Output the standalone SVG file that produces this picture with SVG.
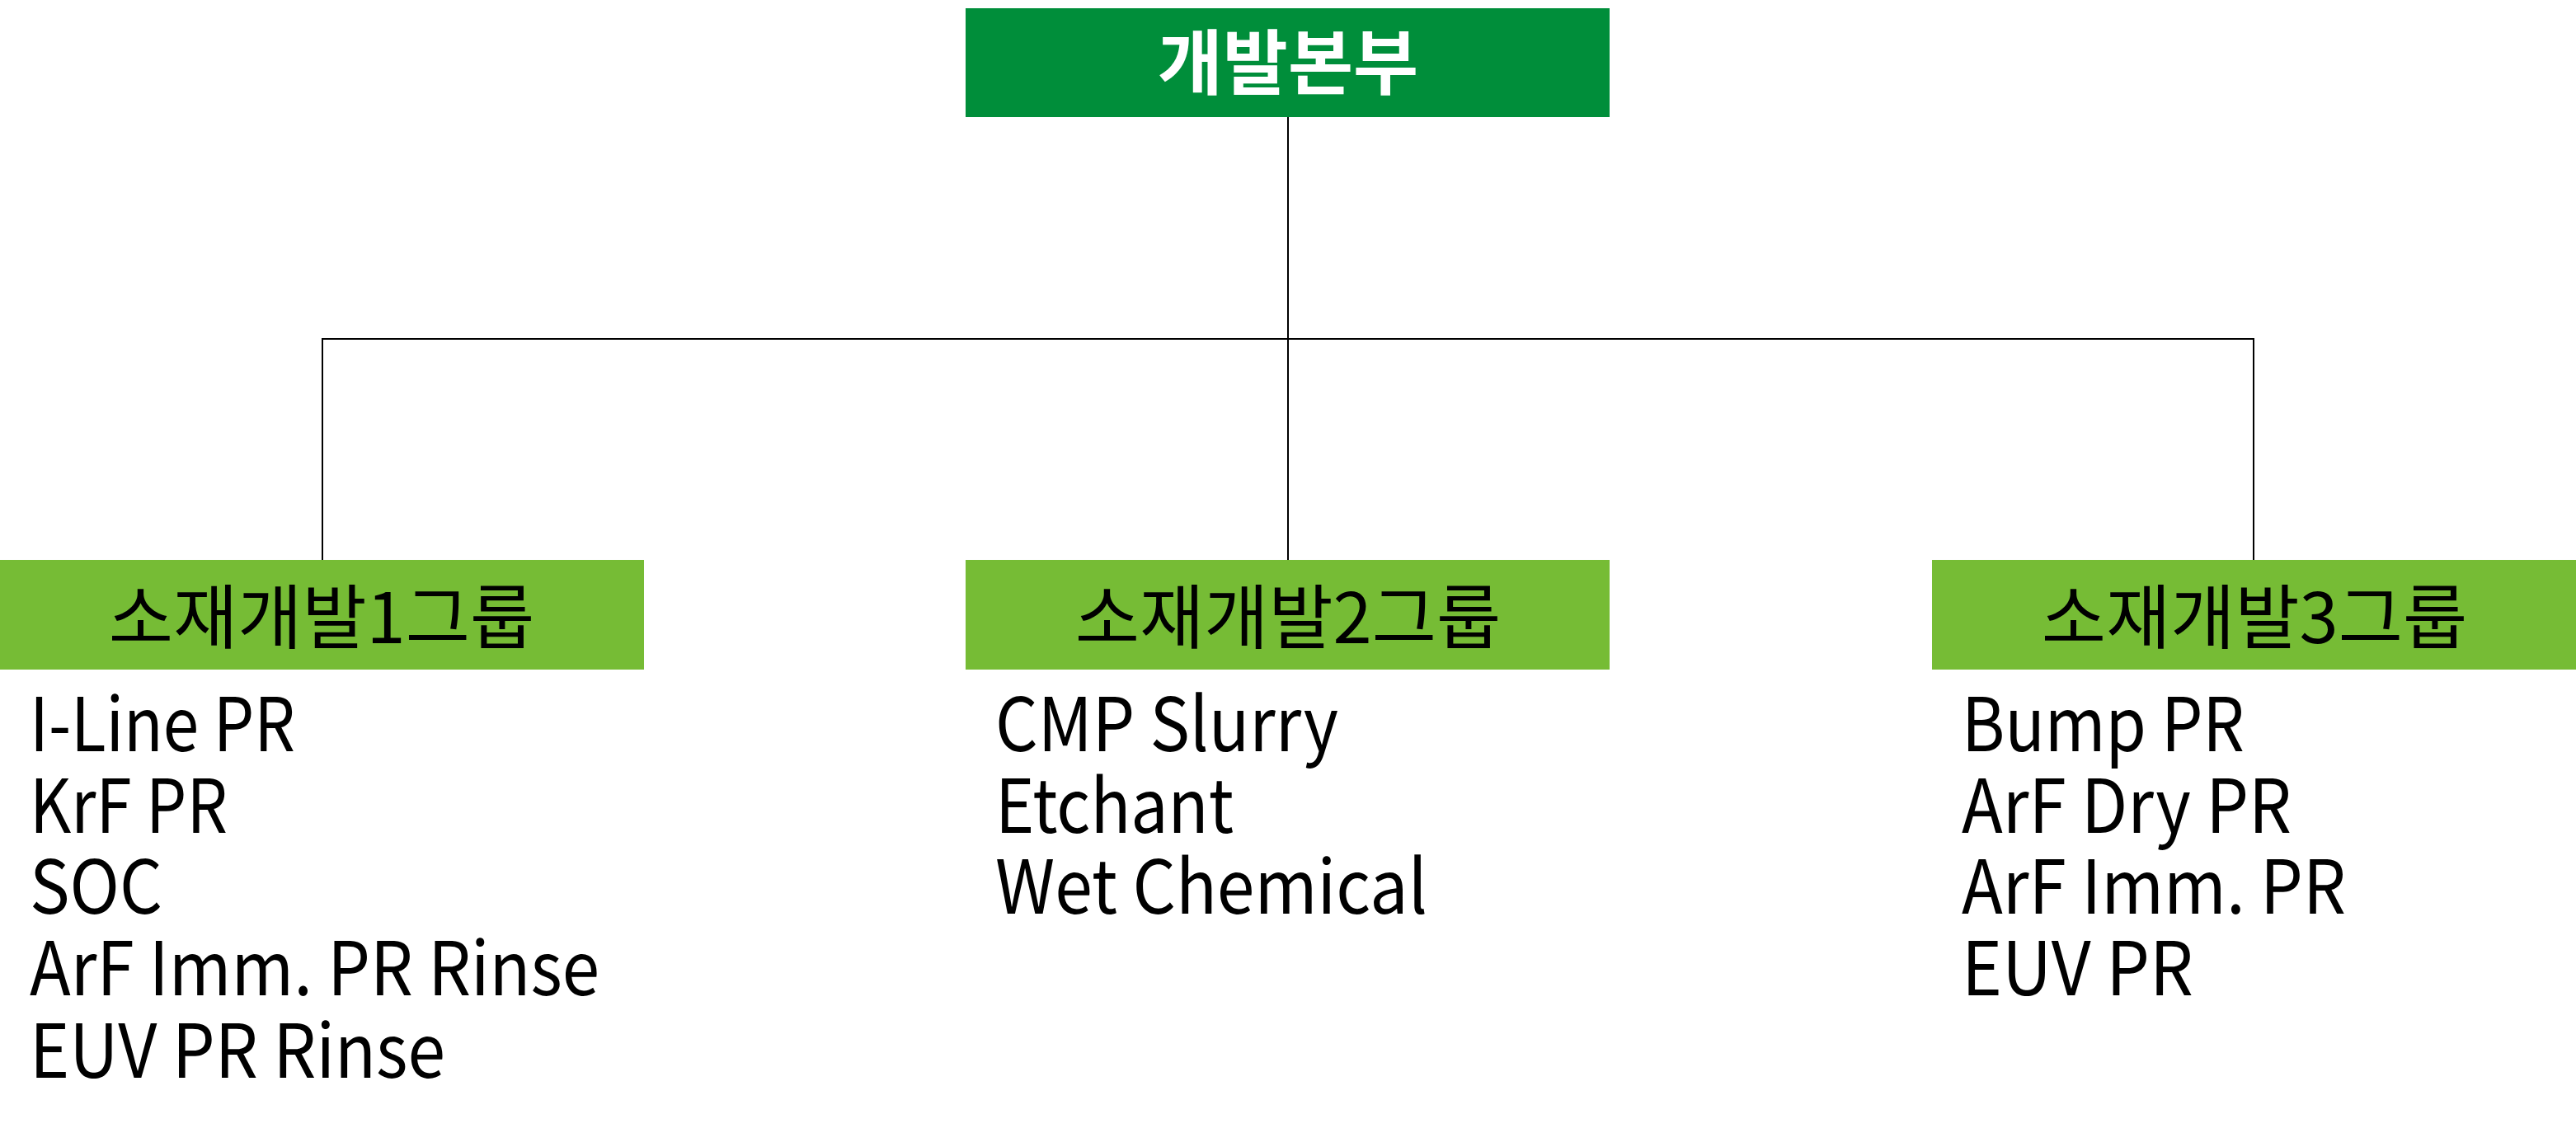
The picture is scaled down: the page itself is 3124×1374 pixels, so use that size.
<svg xmlns="http://www.w3.org/2000/svg" width="3124" height="1374" viewBox="0 0 3124 1374">
<style>
.top{fill:#008e3a}
.grp{fill:#76bc35}
.tt{font-family:"Noto Sans CJK KR","Noto Sans",sans-serif;font-size:86px;font-weight:700;fill:#fff;text-anchor:middle}
.gt{font-family:"Noto Sans CJK KR","Noto Sans",sans-serif;font-size:85px;fill:#000;text-anchor:middle}
.it{font-family:"Noto Sans CJK KR","Noto Sans",sans-serif;font-size:90px;fill:#000}
.ln{stroke:#000;stroke-width:2;fill:none}
</style>
<rect width="3124" height="1374" fill="#fff"/>
<g id="connectors">
<path class="ln" d="M1562 142V679"/>
<path class="ln" d="M391 679V411H2733V679"/>
</g>
<g id="hq">
<rect class="top" x="1171" y="10" width="781" height="132"/>
<text class="tt" x="1562" y="108">개발본부</text>
</g>
<g id="group1">
<rect class="grp" x="0" y="679" width="781" height="133"/>
<text class="gt" x="390" y="780">소재개발1그룹</text>
<text class="it" x="36" y="911" textLength="322" lengthAdjust="spacingAndGlyphs">I-Line PR</text>
<text class="it" x="36" y="1010" textLength="240" lengthAdjust="spacingAndGlyphs">KrF PR</text>
<text class="it" x="36" y="1108" textLength="161" lengthAdjust="spacingAndGlyphs">SOC</text>
<text class="it" x="36" y="1207" textLength="691" lengthAdjust="spacingAndGlyphs">ArF Imm. PR Rinse</text>
<text class="it" x="36" y="1307" textLength="504" lengthAdjust="spacingAndGlyphs">EUV PR Rinse</text>
</g>
<g id="group2">
<rect class="grp" x="1171" y="679" width="781" height="133"/>
<text class="gt" x="1562" y="780">소재개발2그룹</text>
<text class="it" x="1207" y="911" textLength="416" lengthAdjust="spacingAndGlyphs">CMP Slurry</text>
<text class="it" x="1207" y="1010" textLength="289" lengthAdjust="spacingAndGlyphs">Etchant</text>
<text class="it" x="1207" y="1108" textLength="524" lengthAdjust="spacingAndGlyphs">Wet Chemical</text>
</g>
<g id="group3">
<rect class="grp" x="2343" y="679" width="781" height="133"/>
<text class="gt" x="2734" y="780">소재개발3그룹</text>
<text class="it" x="2379" y="911" textLength="343" lengthAdjust="spacingAndGlyphs">Bump PR</text>
<text class="it" x="2379" y="1010" textLength="400" lengthAdjust="spacingAndGlyphs">ArF Dry PR</text>
<text class="it" x="2379" y="1108" textLength="466" lengthAdjust="spacingAndGlyphs">ArF Imm. PR</text>
<text class="it" x="2379" y="1207" textLength="281" lengthAdjust="spacingAndGlyphs">EUV PR</text>
</g>
</svg>
